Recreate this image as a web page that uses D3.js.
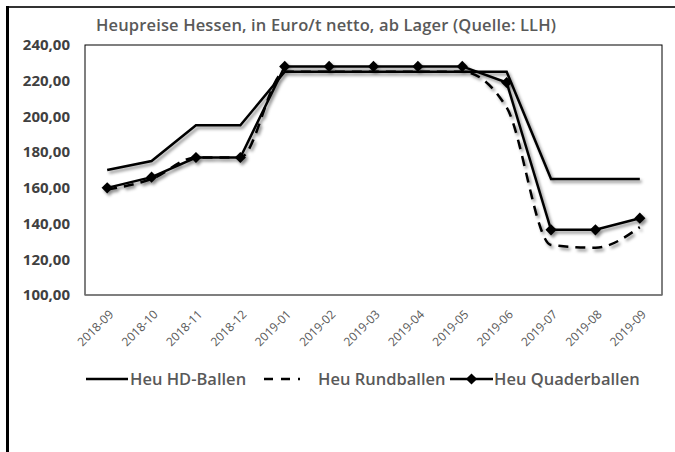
<!DOCTYPE html>
<html>
<head>
<meta charset="utf-8">
<script src="https://cdn.jsdelivr.net/npm/d3@7"></script>
<style>
body { margin: 0; background: #fff; }
text { font-family: "Open Sans", Lato, sans-serif; }
</style>
</head>
<body>
<div id="canvas"></div>
<script>
const months = ["2018-09", "2018-10", "2018-11", "2018-12", "2019-01", "2019-02", "2019-03",
    "2019-04", "2019-05", "2019-06", "2019-07", "2019-08", "2019-09"];
const hdBallen = [170, 175, 195, 195, 225, 225, 225, 225, 225, 225, 165, 165, 165];
const rundBallen = [159, 165, 177, 177, 225, 225, 225, 225, 225, 205, 128, 126.5, 138];
const quaderBallen = [160, 166, 177, 177, 228, 228, 228, 228, 228, 219, 136.5, 136.5, 143];
const yTicks = [100, 120, 140, 160, 180, 200, 220, 240];
const title = "Heupreise Hessen, in Euro/t netto, ab Lager (Quelle: LLH)";

const width = 675;
const height = 452;
const margin = { top: 45, left: 85, bottom: 157, right: 13 };
const iwidth = width - margin.left - margin.right;
const iheight = height - margin.top - margin.bottom;

const svg = d3.select("#canvas").append("svg")
    .attr("width", width)
    .attr("height", height);

// shadow under the lines
const filt = svg.append("defs").append("filter")
    .attr("id", "shadow")
    .attr("x", "-10%").attr("y", "-10%")
    .attr("width", "120%").attr("height", "130%");
filt.append("feDropShadow")
    .attr("dx", 2).attr("dy", 2.5)
    .attr("stdDeviation", 1.6)
    .attr("flood-color", "#000")
    .attr("flood-opacity", 0.45);

// outer frame (partial, as in the picture)
svg.append("line").attr("x1", 6).attr("x2", width).attr("y1", 7).attr("y2", 7)
    .attr("stroke", "#333").attr("stroke-width", 2);
svg.append("line").attr("x1", 7.5).attr("x2", 7.5).attr("y1", 6).attr("y2", height)
    .attr("stroke", "#000").attr("stroke-width", 3);

svg.append("text")
    .attr("x", 326).attr("y", 31)
    .attr("text-anchor", "middle")
    .attr("textLength", 460)
    .style("font-size", "16.5px")
    .style("font-weight", "600")
    .style("fill", "#595959")
    .text(title);

const g = svg.append("g").attr("transform", `translate(${margin.left},${margin.top})`);

const x = d3.scaleBand()
    .domain(months)
    .range([0, iwidth]);

const y = d3.scaleLinear()
    .domain([100, 240])
    .range([iheight, 0]);

// plot frame
g.append("rect")
    .attr("width", iwidth).attr("height", iheight)
    .attr("fill", "none").attr("stroke", "#000").attr("stroke-width", 1);
g.append("line").attr("x1", 0).attr("x2", iwidth).attr("y1", iheight).attr("y2", iheight)
    .attr("stroke", "#7f7f7f").attr("stroke-width", 1.5);

const yAxis = g.append("g")
    .call(d3.axisLeft(y).tickValues(yTicks).tickSize(0).tickPadding(15)
        .tickFormat(d => d3.format(".2f")(d).replace(".", ",")));
yAxis.select(".domain").remove();
yAxis.selectAll("text")
    .style("font-size", "15px")
    .style("font-weight", "bold")
    .style("fill", "#404040")
    .style("font-family", "'Open Sans', sans-serif");

const xAxis = g.append("g")
    .attr("transform", `translate(0,${iheight})`)
    .call(d3.axisBottom(x).tickSize(0));
xAxis.select(".domain").remove();
xAxis.selectAll("text")
    .attr("text-anchor", "end")
    .attr("dy", 0)
    .attr("transform", "translate(5,18) rotate(-45)")
    .style("font-size", "12px")
    .style("fill", "#595959")
    .style("font-family", "'Open Sans', sans-serif");

const cx = (d, i) => x(months[i]) + x.bandwidth() / 2;
const lineStraight = d3.line().x(cx).y(d => y(d));
const lineSmooth = d3.line().x(cx).y(d => y(d)).curve(d3.curveMonotoneX);

const lines = g.append("g").attr("filter", "url(#shadow)");

lines.append("path").datum(hdBallen)
    .attr("d", lineStraight)
    .attr("fill", "none").attr("stroke", "#000").attr("stroke-width", 2.5);

lines.append("path").datum(rundBallen)
    .attr("d", lineSmooth)
    .attr("fill", "none").attr("stroke", "#000").attr("stroke-width", 2.5)
    .attr("stroke-dasharray", "10,7");

lines.append("path").datum(quaderBallen)
    .attr("d", lineStraight)
    .attr("fill", "none").attr("stroke", "#000").attr("stroke-width", 2.5);

const diamond = d3.symbol().type(d3.symbolDiamond2).size(80);
lines.selectAll(".mark").data(quaderBallen).enter().append("path")
    .attr("class", "mark")
    .attr("d", diamond)
    .attr("transform", (d, i) => `translate(${cx(d, i)},${y(d)})`)
    .attr("fill", "#000");

// legend
const legend = svg.append("g").attr("transform", "translate(0,379)");
const items = [
    { name: "Heu HD-Ballen", x0: 86, x1: 128, tx: 130, dash: null, mark: false },
    { name: "Heu Rundballen", x0: 264, x1: 300, tx: 318, dash: "9,8", mark: false },
    { name: "Heu Quaderballen", x0: 450, x1: 493, tx: 494, dash: null, mark: true }
];
items.forEach(it => {
    legend.append("line")
        .attr("x1", it.x0).attr("x2", it.x1)
        .attr("stroke", "#000").attr("stroke-width", 2.5)
        .attr("stroke-dasharray", it.dash);
    if (it.mark) {
        legend.append("path").attr("d", diamond)
            .attr("transform", `translate(${(it.x0 + it.x1) / 2},0)`);
    }
    legend.append("text")
        .attr("x", it.tx).attr("y", 6)
        .style("font-size", "16.5px")
        .style("font-weight", "600")
        .style("fill", "#595959")
        .text(it.name);
});
</script>
</body>
</html>
